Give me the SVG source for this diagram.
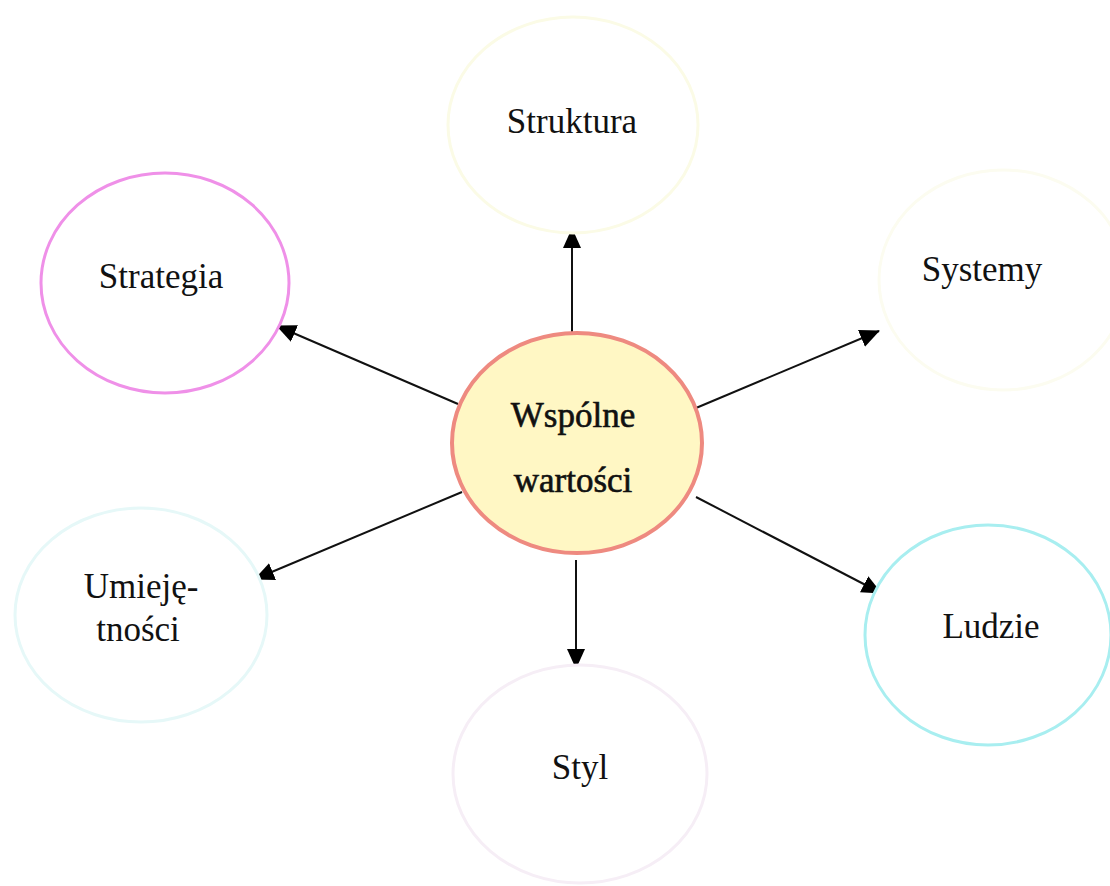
<svg xmlns="http://www.w3.org/2000/svg" width="1110" height="886" viewBox="0 0 1110 886">
<defs>
<marker id="ah" markerWidth="22" markerHeight="20" refX="19" refY="9" orient="auto" markerUnits="userSpaceOnUse">
<path d="M0,0 L20,9 L0,18 Z" fill="#000"/>
</marker>
<style>
.lbl{font-family:"Liberation Serif","Times New Roman",serif;font-size:35px;fill:#111;text-anchor:middle}
.ctr{stroke:#111;stroke-width:0.6}
.node{fill:#fff;stroke-width:3}
.conn{stroke:#111;stroke-width:2;fill:none;marker-end:url(#ah)}
</style>
</defs>
<rect width="1110" height="886" fill="#fff"/>
<g id="connectors">
<line class="conn" x1="572" y1="333" x2="572" y2="229"/>
<line class="conn" x1="458" y1="404" x2="277" y2="326"/>
<line class="conn" x1="696" y1="408" x2="879" y2="331"/>
<line class="conn" x1="462" y1="492" x2="255" y2="579"/>
<line class="conn" x1="696" y1="497" x2="881" y2="593"/>
<line class="conn" x1="576" y1="560" x2="576" y2="668"/>
</g>
<g id="node-center">
<ellipse cx="577" cy="443" rx="125" ry="110" fill="#fff7c4" stroke="#ee8a80" stroke-width="4"/>
<text class="lbl ctr" x="573" y="427">Wspólne</text>
<text class="lbl ctr" x="573" y="492">wartości</text>
</g>
<g id="node-struktura">
<ellipse class="node" cx="573" cy="125" rx="125" ry="108" stroke="#fbfbe6"/>
<text class="lbl" x="572" y="133">Struktura</text>
</g>
<g id="node-strategia">
<ellipse class="node" cx="165" cy="283" rx="124" ry="110" stroke="#ef90e8"/>
<text class="lbl" x="161" y="288">Strategia</text>
</g>
<g id="node-systemy">
<ellipse class="node" cx="1003" cy="280" rx="124" ry="110" stroke="#fcfcf0"/>
<text class="lbl" x="982" y="281">Systemy</text>
</g>
<g id="node-umiejetnosci">
<ellipse class="node" cx="141" cy="615" rx="126" ry="107" stroke="#e6f8f8"/>
<text class="lbl" x="141" y="598">Umieję-</text>
<text class="lbl" x="138" y="641">tności</text>
</g>
<g id="node-ludzie">
<ellipse class="node" cx="988" cy="635" rx="123" ry="110" stroke="#a8eef0"/>
<text class="lbl" x="991" y="638">Ludzie</text>
</g>
<g id="node-styl">
<ellipse class="node" cx="580" cy="774" rx="127" ry="109" stroke="#f6eef6"/>
<text class="lbl" x="580" y="779">Styl</text>
</g>
</svg>
